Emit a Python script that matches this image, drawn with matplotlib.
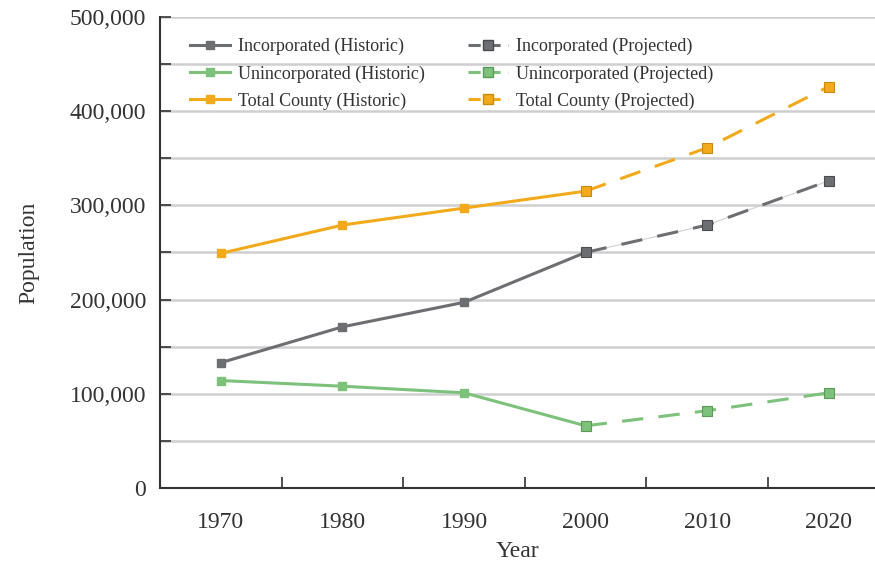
import matplotlib.pyplot as plt
from matplotlib.lines import Line2D
import numpy as np

years = ["1970", "1980", "1990", "2000", "2010", "2020"]
inc_hist = [133000, 171000, 197000, 250000]
uninc_hist = [114000, 108000, 101000, 66000]
total_hist = [249000, 279000, 297000, 315000]
inc_proj = [250000, 279000, 326000]
uninc_proj = [66000, 82000, 101000]
total_proj = [315000, 361000, 426000]

c_inc = "#6d6e71"
c_uninc = "#7cc27a"
c_total = "#f2aa1c"
edge = {"inc": "#4a4b4e", "uninc": "#5b9a59", "total": "#c98a10"}
txt = "#333333"

plt.rcParams['font.family'] = ['Liberation Serif', 'DejaVu Serif']

fig = plt.figure(figsize=(8.75, 5.65), dpi=100)
ax = fig.add_axes([0.183, 0.1363, 0.817, 0.834])

x = np.arange(len(years))
xh = x[:4]
xp = x[3:]

# thin light connector under the incorporated dashes
ax.plot(xp, inc_proj, color="#d0d0d0", lw=0.8, zorder=2)

for vals, c in [(inc_hist, c_inc), (uninc_hist, c_uninc), (total_hist, c_total)]:
    ax.plot(xh, vals, color=c, lw=2.2, marker="s", ms=5.5, zorder=3)

for vals, c, e in [(inc_proj, c_inc, edge["inc"]), (uninc_proj, c_uninc, edge["uninc"]),
                   (total_proj, c_total, edge["total"])]:
    ax.plot(xp, vals, color=c, lw=2.2, dashes=(7, 5), marker="s", ms=7.5,
            markeredgecolor=e, markeredgewidth=0.8, zorder=4)

ax.set_xlim(-0.5, 5.38)
ax.set_ylim(0, 500000)
ax.set_xticks(x)
ax.set_xticklabels(years)
ax.set_xticks(x[:-1] + 0.5, minor=True)
ax.tick_params(axis="x", which="major", length=0, pad=17, labelsize=17)
ax.tick_params(axis="x", which="minor", direction="in", length=8, width=1.2, color=txt)

ax.set_yticks(np.arange(0, 500001, 100000))
ax.set_yticks(np.arange(50000, 500000, 100000), minor=True)
ax.set_yticklabels(["0", "100,000", "200,000", "300,000", "400,000", "500,000"])
ax.tick_params(axis="y", which="both", direction="in", length=8, width=1.2, color=txt,
               labelsize=17, pad=10)
for t in ax.get_xticklabels() + ax.get_yticklabels():
    t.set_color(txt)

ax.grid(axis="y", which="both", color="#cfcfcf", lw=1.8, zorder=0)
ax.set_axisbelow(True)

for s in ["top", "right"]:
    ax.spines[s].set_visible(False)
for s in ["left", "bottom"]:
    ax.spines[s].set_color(txt)
    ax.spines[s].set_linewidth(1.5)

ax.set_ylabel("Population", fontsize=17, color=txt, labelpad=22)
ax.set_xlabel("Year", fontsize=17, color=txt, labelpad=6)

handles = [
    Line2D([], [], color=c_inc, lw=2.2, marker="s", ms=5.5),
    Line2D([], [], color=c_uninc, lw=2.2, marker="s", ms=5.5),
    Line2D([], [], color=c_total, lw=2.2, marker="s", ms=5.5),
    Line2D([], [], color=c_inc, lw=2.2, dashes=(4, 2.5), marker="s", ms=7, markeredgecolor=edge["inc"]),
    Line2D([], [], color=c_uninc, lw=2.2, dashes=(4, 2.5), marker="s", ms=7, markeredgecolor=edge["uninc"]),
    Line2D([], [], color=c_total, lw=2.2, dashes=(4, 2.5), marker="s", ms=7, markeredgecolor=edge["total"]),
]
labels = ["Incorporated (Historic)", "Unincorporated (Historic)", "Total County (Historic)",
          "Incorporated (Projected)", "Unincorporated (Projected)", "Total County (Projected)"]
ax.legend(handles, labels, ncol=2, loc="upper left", bbox_to_anchor=(0.042, 0.955),
          borderaxespad=0, borderpad=0,
          frameon=False, fontsize=13, handlelength=2.2, handletextpad=0.45,
          labelspacing=0.55, columnspacing=2.4, labelcolor=txt)

fig.savefig("out.png", dpi=100)
